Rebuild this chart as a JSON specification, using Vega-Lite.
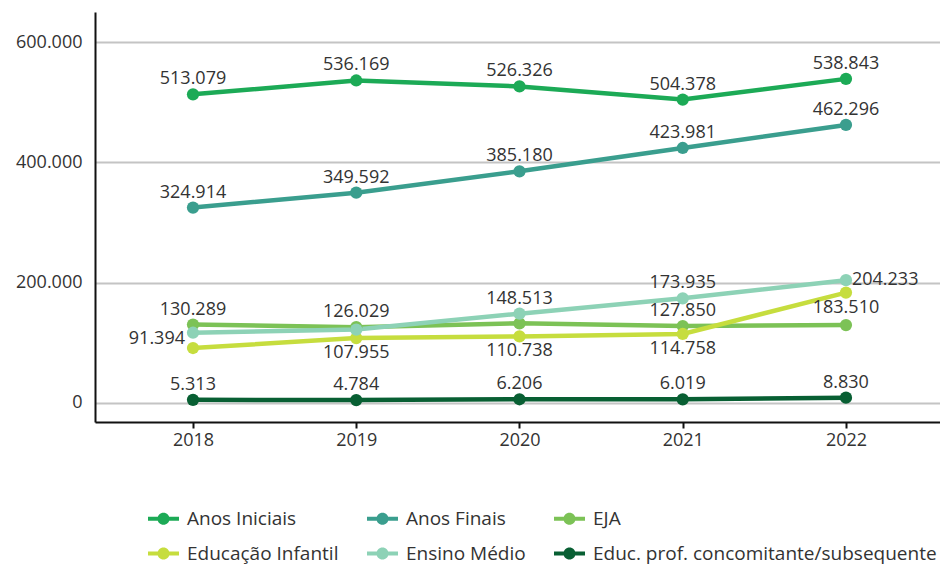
{
  "$schema": "https://vega.github.io/schema/vega-lite/v6.json",
  "autosize": {"type": "none"},
  "padding": {"left": 95, "top": 12, "right": 0, "bottom": 142},
  "width": 845,
  "height": 410,
  "background": "white",
  "config": {
    "locale": {"number": {"decimal": ",", "thousands": ".", "grouping": [3], "currency": ["R$", ""]}},
    "view": {"stroke": null},
    "font": "Open Sans"
  },
  "data": {
    "values": [
      {"ano": 2018, "serie": "Anos Iniciais", "valor": 513079},
      {"ano": 2019, "serie": "Anos Iniciais", "valor": 536169},
      {"ano": 2020, "serie": "Anos Iniciais", "valor": 526326},
      {"ano": 2021, "serie": "Anos Iniciais", "valor": 504378},
      {"ano": 2022, "serie": "Anos Iniciais", "valor": 538843},
      {"ano": 2018, "serie": "Anos Finais", "valor": 324914},
      {"ano": 2019, "serie": "Anos Finais", "valor": 349592},
      {"ano": 2020, "serie": "Anos Finais", "valor": 385180},
      {"ano": 2021, "serie": "Anos Finais", "valor": 423981},
      {"ano": 2022, "serie": "Anos Finais", "valor": 462296},
      {"ano": 2018, "serie": "EJA", "valor": 130289},
      {"ano": 2019, "serie": "EJA", "valor": 126029},
      {"ano": 2020, "serie": "EJA", "valor": 132400},
      {"ano": 2021, "serie": "EJA", "valor": 127850},
      {"ano": 2022, "serie": "EJA", "valor": 129500},
      {"ano": 2018, "serie": "Educação Infantil", "valor": 91394},
      {"ano": 2019, "serie": "Educação Infantil", "valor": 107955},
      {"ano": 2020, "serie": "Educação Infantil", "valor": 110738},
      {"ano": 2021, "serie": "Educação Infantil", "valor": 114758},
      {"ano": 2022, "serie": "Educação Infantil", "valor": 183510},
      {"ano": 2018, "serie": "Ensino Médio", "valor": 116800},
      {"ano": 2019, "serie": "Ensino Médio", "valor": 122000},
      {"ano": 2020, "serie": "Ensino Médio", "valor": 148513},
      {"ano": 2021, "serie": "Ensino Médio", "valor": 173935},
      {"ano": 2022, "serie": "Ensino Médio", "valor": 204233},
      {"ano": 2018, "serie": "Educ. prof. concomitante/subsequente", "valor": 5313},
      {"ano": 2019, "serie": "Educ. prof. concomitante/subsequente", "valor": 4784},
      {"ano": 2020, "serie": "Educ. prof. concomitante/subsequente", "valor": 6206},
      {"ano": 2021, "serie": "Educ. prof. concomitante/subsequente", "valor": 6019},
      {"ano": 2022, "serie": "Educ. prof. concomitante/subsequente", "valor": 8830}
    ]
  },
  "encoding": {
    "x": {
      "field": "ano", "type": "quantitative",
      "scale": {"domain": [2017.3997, 2022.576], "nice": false, "zero": false},
      "axis": {
        "title": null, "values": [2018, 2019, 2020, 2021, 2022], "format": "d",
        "grid": false, "domainColor": "#111", "domainWidth": 2,
        "ticks": true, "tickColor": "#111", "tickWidth": 2, "tickSize": 6,
        "labelPadding": 3, "labelFont": "Open Sans", "labelFontSize": 18, "labelColor": "#333"
      }
    },
    "y": {
      "field": "valor", "type": "quantitative",
      "scale": {"domain": [-31600, 650000], "nice": false, "zero": false},
      "axis": {
        "title": null, "values": [0, 200000, 400000, 600000], "format": ",d",
        "grid": true, "gridColor": "#c4c4c4", "gridWidth": 1.8,
        "domainColor": "#111", "domainWidth": 2, "ticks": false,
        "labelPadding": 13, "labelFont": "Open Sans", "labelFontSize": 18, "labelColor": "#333"
      }
    }
  },
  "layer": [
    {
      "mark": {"type": "line", "strokeWidth": 4.5},
      "encoding": {
        "color": {
          "field": "serie", "type": "nominal",
          "scale": {
            "domain": ["Anos Iniciais", "Anos Finais", "EJA", "Educação Infantil", "Ensino Médio", "Educ. prof. concomitante/subsequente"],
            "range": ["#1caa56", "#3a9e8e", "#7cc256", "#c6dd3e", "#8dd2b6", "#085f33"]
          },
          "legend": {
            "title": null, "orient": "none", "legendX": 53, "legendY": 491,
            "direction": "horizontal", "columns": 3, "columnPadding": 28, "rowPadding": 9,
            "padding": 0,
            "symbolType": "M-1,-0.13H1V0.13H-1Z M-0.39,0A0.39,0.39 0 1,1 0.39,0A0.39,0.39 0 1,1 -0.39,0Z",
            "symbolSize": 961, "symbolStrokeWidth": 0, "symbolOffset": 0,
            "labelFont": "Open Sans", "labelFontSize": 19, "labelColor": "#333", "labelOffset": 8, "labelLimit": 400,
            "encode": {"symbols": {"update": {"fill": {"scale": "color", "field": "value"}, "fillOpacity": {"value": 1}, "strokeWidth": {"value": 0}}}}
          }
        }
      }
    },
    {
      "mark": {"type": "point", "filled": true, "size": 150, "opacity": 1},
      "encoding": {"color": {"field": "serie", "type": "nominal"}}
    },
    {
      "transform": [{"filter": "datum.serie == 'Anos Iniciais' || datum.serie == 'Anos Finais' || datum.serie == 'Educ. prof. concomitante/subsequente' || (datum.serie == 'EJA' && datum.ano != 2020 && datum.ano != 2022) || (datum.serie == 'Ensino Médio' && (datum.ano == 2020 || datum.ano == 2021))"}],
      "mark": {"type": "text", "dy": -15, "baseline": "middle", "align": "center", "fontSize": 18, "font": "Open Sans", "color": "#333"},
      "encoding": {"text": {"field": "valor", "type": "quantitative", "format": ",d"}}
    },
    {
      "transform": [{"filter": "datum.serie == 'Educação Infantil' && datum.ano != 2018"}],
      "mark": {"type": "text", "dy": 15, "baseline": "middle", "align": "center", "fontSize": 18, "font": "Open Sans", "color": "#333"},
      "encoding": {"text": {"field": "valor", "type": "quantitative", "format": ",d"}}
    },
    {
      "transform": [{"filter": "datum.serie == 'Educação Infantil' && datum.ano == 2018"}],
      "mark": {"type": "text", "dx": -8, "dy": -9, "baseline": "middle", "align": "right", "fontSize": 18, "font": "Open Sans", "color": "#333"},
      "encoding": {"text": {"field": "valor", "type": "quantitative", "format": ",d"}}
    },
    {
      "transform": [{"filter": "datum.serie == 'Ensino Médio' && datum.ano == 2022"}],
      "mark": {"type": "text", "dx": 6, "dy": 0, "baseline": "middle", "align": "left", "fontSize": 18, "font": "Open Sans", "color": "#333"},
      "encoding": {"text": {"field": "valor", "type": "quantitative", "format": ",d"}}
    }
  ]
}
